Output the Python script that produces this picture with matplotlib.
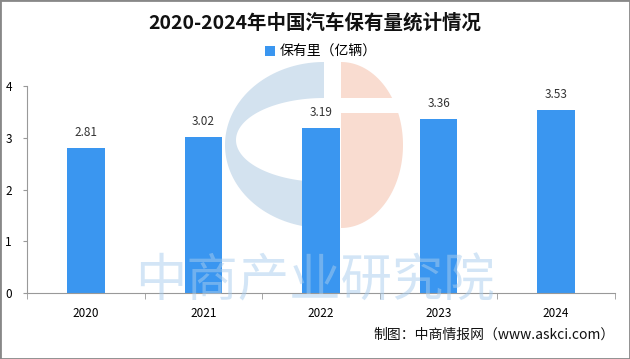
import matplotlib.pyplot as plt
from matplotlib.patches import Ellipse, Wedge, Rectangle
import numpy as np

plt.rcParams['font.family'] = ['Noto Sans CJK SC', 'DejaVu Sans']

years = ['2020', '2021', '2022', '2023', '2024']
stock = [2.81, 3.02, 3.19, 3.36, 3.53]
yticks = [0, 1, 2, 3, 4]

fig = plt.figure(figsize=(6.3, 3.59), dpi=100)

# background watermark logo, drawn in pixel coords (y down)
bg = fig.add_axes([0, 0, 1, 1], zorder=0)
bg.set_xlim(0, 630)
bg.set_ylim(359, 0)
bg.axis('off')
# left blue "C"
t = np.linspace(np.pi / 2, 3 * np.pi / 2, 100)
bg.fill(np.r_[324 + 99 * np.cos(t)], np.r_[145 + 83 * np.sin(t)], color='#d3e2ef', lw=0)
bg.fill(np.r_[324 + 88 * np.cos(t)], np.r_[140 + 42 * np.sin(t)], color='white', lw=0)
# right pink half with a gap
t2 = np.linspace(-np.pi / 2, np.pi / 2, 100)
bg.fill(np.r_[341 + 62 * np.cos(t2)], np.r_[145 + 83 * np.sin(t2)], color='#f9dcd0', lw=0)
bg.add_patch(Rectangle((341, 98), 70, 15, color='white', lw=0))

ax = fig.add_axes([0.043, 0.184, 0.933, 0.576], zorder=1)
ax.patch.set_alpha(0)

bars = ax.bar(years, stock, width=0.32, color='#3a96f0', label='保有里（亿辆）', zorder=2)
for b, v in zip(bars, stock):
    ax.text(b.get_x() + b.get_width() / 2, v + 0.3, f'{v:.2f}',
            ha='center', va='center', fontsize=8.5, color='#333333')

ax.set_ylim(0, 4)
ax.set_xlim(-0.5, 4.5)
ax.set_yticks(yticks)
ax.set_xticks(np.arange(-0.5, 5, 1), minor=True)
ax.tick_params(axis='y', length=3, color='#999999', labelsize=8.5, pad=8)
ax.tick_params(axis='x', which='major', length=0, labelsize=8.5, pad=10)
ax.tick_params(axis='x', which='minor', length=4, color='#999999')
for s in ['top', 'right']:
    ax.spines[s].set_visible(False)
for s in ['left', 'bottom']:
    ax.spines[s].set_color('#999999')

fig.text(0.5, 0.935, '2020-2024年中国汽车保有量统计情况', ha='center', va='center',
         fontsize=14, fontweight='bold', color='#111111')
ax.legend(loc='center', bbox_to_anchor=(0.5, 1.165), frameon=False, fontsize=10,
          handlelength=0.7, handleheight=0.7, handletextpad=0.3)

fig.text(0.5, 0.215, '中商产业研究院', ha='center', va='center', fontsize=37,
         color='#a8cdee', alpha=0.5, zorder=5)

fig.text(0.975, 0.067, '制图：中商情报网（www.askci.com）', ha='right', va='center',
         fontsize=10, color='#111111')

fig.add_artist(Rectangle((0, 0), 1, 1, transform=fig.transFigure, fill=False,
                         edgecolor='#888888', linewidth=2))

fig.savefig('out.png', dpi=100)
